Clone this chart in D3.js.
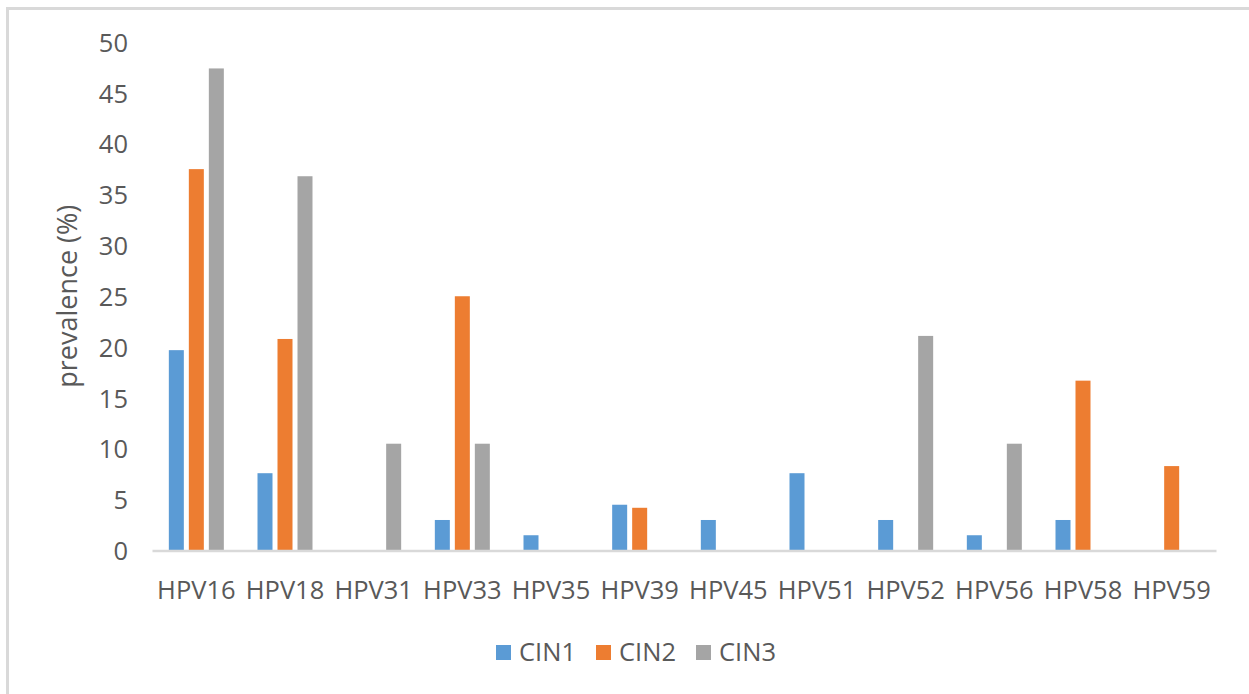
<!DOCTYPE html>
<html>
<head>
<meta charset="utf-8">
<script src="https://cdn.jsdelivr.net/npm/d3@7"></script>
<style>
  html, body { margin: 0; padding: 0; background: #fff; }
  svg { display: block; font-family: "Open Sans", "Noto Sans", sans-serif; }
</style>
</head>
<body>
<svg id="chart" width="1249" height="694"></svg>
<script>
// HPV genotype prevalence by lesion grade
const categories = ["HPV16", "HPV18", "HPV31", "HPV33", "HPV35", "HPV39",
                    "HPV45", "HPV51", "HPV52", "HPV56", "HPV58", "HPV59"];
const seriesNames = ["CIN1", "CIN2", "CIN3"];
const cin1 = [19.7, 7.6, 0, 3.0, 1.5, 4.5, 3.0, 7.6, 3.0, 1.5, 3.0, 0];
const cin2 = [37.5, 20.8, 0, 25.0, 0, 4.2, 0, 0, 0, 0, 16.7, 8.3];
const cin3 = [47.4, 36.8, 10.5, 10.5, 0, 0, 0, 0, 21.1, 10.5, 0, 0];
const yTicks = [0, 5, 10, 15, 20, 25, 30, 35, 40, 45, 50];
const colors = ["#5b9bd5", "#ed7d31", "#a5a5a5"];

const seriesValues = [cin1, cin2, cin3];
const svg = d3.select("#chart");
const textColor = "#595959";
const gridColor = "#d9d9d9";
const fontSize = 25.5;

// chart frame (top and left edges fall inside the view)
svg.append("path")
  .attr("d", "M7.5,694 L7.5,8.5 L1249,8.5")
  .attr("fill", "none")
  .attr("stroke", gridColor)
  .attr("stroke-width", 3);

const plot = { left: 152, right: 1216, top: 42, bottom: 550.5 };

const x = d3.scaleBand().domain(categories).range([plot.left, plot.right]).padding(0);
const xs = d3.scaleBand().domain(seriesNames).range([-27.5, 27.5]).paddingInner(0.25).paddingOuter(0);
const y = d3.scaleLinear().domain([0, 50]).range([plot.bottom, plot.top]);

// bars
const rows = [];
seriesNames.forEach((s, si) => {
  categories.forEach((c, ci) => {
    rows.push({ series: s, cat: c, value: seriesValues[si][ci], color: colors[si] });
  });
});

svg.append("g").selectAll("rect")
  .data(rows.filter(d => d.value > 0))
  .join("rect")
  .attr("x", d => x(d.cat) + x.bandwidth() / 2 + xs(d.series))
  .attr("width", xs.bandwidth())
  .attr("y", d => y(d.value))
  .attr("height", d => y(0) - y(d.value))
  .attr("fill", d => d.color);

// category axis
const xAxis = svg.append("g")
  .attr("transform", `translate(0,${plot.bottom})`)
  .call(d3.axisBottom(x).tickSize(0).tickPadding(0));
xAxis.select(".domain").attr("stroke", gridColor).attr("stroke-width", 2.5);
xAxis.selectAll("text")
  .attr("fill", textColor)
  .attr("font-size", fontSize)
  .attr("font-family", "Open Sans")
  .attr("dy", null)
  .attr("y", 48);

// value axis (labels only)
const yAxis = svg.append("g")
  .attr("transform", `translate(128,0)`)
  .call(d3.axisLeft(y).tickValues(yTicks).tickSize(0).tickPadding(0));
yAxis.select(".domain").remove();
yAxis.selectAll("text")
  .attr("fill", textColor)
  .attr("font-size", fontSize)
  .attr("font-family", "Open Sans")
  .attr("dy", "0.36em");

// value axis title
svg.append("text")
  .attr("transform", `translate(77,${(plot.top + plot.bottom) / 2}) rotate(-90)`)
  .attr("text-anchor", "middle")
  .attr("fill", textColor)
  .attr("font-size", 27)
  .text("prevalence (%)");

// legend
const legendItems = [
  { name: "CIN1", color: colors[0], x: 496 },
  { name: "CIN2", color: colors[1], x: 596 },
  { name: "CIN3", color: colors[2], x: 696 }
];
const legend = svg.append("g");
const li = legend.selectAll("g").data(legendItems).join("g")
  .attr("transform", d => `translate(${d.x},645)`);
li.append("rect").attr("width", 15).attr("height", 15).attr("fill", d => d.color);
li.append("text")
  .attr("x", 23).attr("y", 16)
  .attr("fill", textColor)
  .attr("font-size", fontSize)
  .text(d => d.name);
</script>
</body>
</html>
